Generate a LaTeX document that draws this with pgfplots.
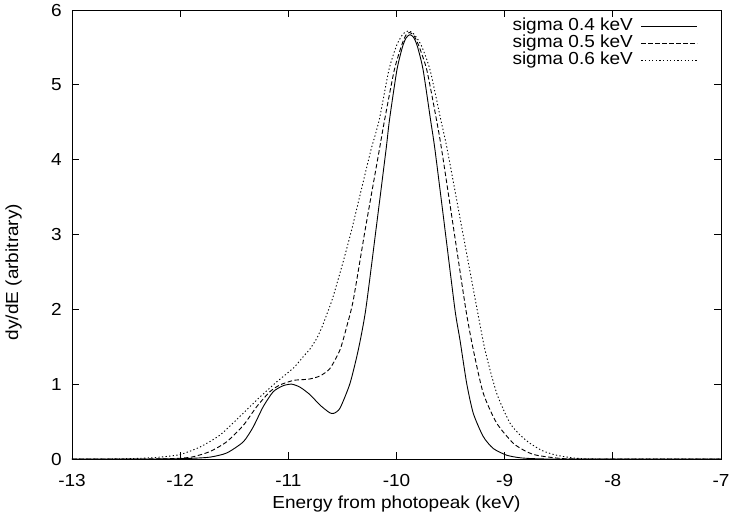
\documentclass[border=0pt]{standalone}
\usepackage{fontspec}
\setmainfont[FakeStretch=1.09]{Liberation Sans}
\usepackage{pgfplots}
\pgfplotsset{compat=1.18}
\newcommand\fs{\fontsize{17.5}{21}\selectfont}
\begin{document}
\begin{tikzpicture}
\begin{axis}[
  scale only axis, width=649bp, height=449bp,
  xmin=-13, xmax=-7, ymin=0, ymax=6,
  xtick={-13,-12,-11,-10,-9,-8,-7}, ytick={0,1,2,3,4,5,6},
  tick align=inside, tick pos=both, major tick length=7bp,
  axis line style={line width=0.8bp, black},
  tick style={line width=0.8bp, black},
  /pgf/number format/assume math mode=true,
  every tick label/.append style={font=\fs, inner sep=0pt},
  xticklabel style={anchor=north, yshift=-15bp},
  yticklabel style={anchor=east, xshift=-10bp},
  xlabel={Energy from photopeak (keV)},
  ylabel={dy/dE (arbitrary)},
  label style={font=\fs},
  xlabel style={at={(axis description cs:0.5,-0.1)}, anchor=center},
  ylabel style={at={(axis description cs:-0.09,0.4165)}, anchor=center},
  legend cell align=right,
  legend plot pos=right,
  legend image code/.code={\draw[#1] (0bp,0bp) -- (56bp,0bp);},
  legend style={draw=none, fill=none, font=\fs,
    at={(axis description cs:0.9646,0.982)}, anchor=north east,
    inner sep=0pt, row sep=0pt, column sep=8bp,
    nodes={inner sep=0pt, text height=12bp, text depth=5bp}},
]
\addplot[black, line width=0.9bp, smooth, tension=0.4] coordinates {
(-13,0) (-12.3,0) (-12.0,0.004) (-11.88,0.01) (-11.724,0.025) (-11.57,0.08)
(-11.416,0.23) (-11.324,0.43) (-11.232,0.70) (-11.139,0.90) (-11.047,0.98)
(-10.969,1.0) (-10.892,0.96) (-10.80,0.86) (-10.707,0.72) (-10.62,0.62)
(-10.58,0.61) (-10.522,0.68) (-10.43,1.01) (-10.353,1.46) (-10.285,1.99)
(-10.19,3.06) (-10.097,4.13) (-10.065,4.53) (-9.996,5.20) (-9.944,5.51)
(-9.91,5.63) (-9.875,5.67) (-9.84,5.63) (-9.806,5.51) (-9.754,5.20)
(-9.685,4.53) (-9.644,4.13) (-9.546,3.0) (-9.459,1.99) (-9.413,1.59)
(-9.351,1.01) (-9.29,0.61) (-9.198,0.30) (-9.105,0.14) (-8.98,0.05)
(-8.85,0.015) (-8.7,0.003) (-8.5,0) (-7,0)
};
\addlegendentry{sigma 0.4 keV}
\addplot[black, line width=0.9bp, dash pattern=on 4.5bp off 2.5bp, smooth, tension=0.4] coordinates {
(-13,0) (-12.4,0) (-12.15,0.003) (-12.0,0.01) (-11.879,0.03) (-11.724,0.10)
(-11.57,0.23) (-11.416,0.45) (-11.292,0.70) (-11.17,0.90) (-11.077,0.99)
(-10.954,1.05) (-10.87,1.06) (-10.80,1.07) (-10.707,1.11) (-10.615,1.21)
(-10.522,1.46) (-10.46,1.77) (-10.40,2.12) (-10.29,3.06) (-10.159,4.13)
(-10.11,4.53) (-10.02,5.20) (-9.952,5.53) (-9.915,5.66) (-9.88,5.70)
(-9.84,5.66) (-9.796,5.53) (-9.72,5.20) (-9.63,4.53) (-9.582,4.13)
(-9.47,3.06) (-9.358,1.99) (-9.290,1.46) (-9.198,0.88) (-9.074,0.48)
(-8.92,0.21) (-8.80,0.10) (-8.704,0.05) (-8.5,0.01) (-8.3,0) (-7,0)
};
\addlegendentry{sigma 0.5 keV}
\addplot[black, line width=0.9bp, dash pattern=on 1.3bp off 2.3bp, smooth, tension=0.4] coordinates {
(-13,0) (-12.7,0) (-12.5,0.004) (-12.35,0.01) (-12.186,0.025) (-12.0,0.06)
(-11.817,0.16) (-11.632,0.32) (-11.447,0.57) (-11.262,0.83) (-11.108,1.03)
(-10.95,1.22) (-10.861,1.37) (-10.80,1.47) (-10.738,1.61) (-10.69,1.76)
(-10.645,1.93) (-10.59,2.15) (-10.50,2.60) (-10.415,3.06) (-10.325,3.60)
(-10.236,4.13) (-10.16,4.53) (-10.07,5.20)
(-9.998,5.53) (-9.94,5.68) (-9.89,5.72) (-9.84,5.68) (-9.772,5.53)
(-9.69,5.20) (-9.59,4.53) (-9.530,4.13) (-9.392,3.06) (-9.26,2.04)
(-9.182,1.46) (-9.074,0.88) (-8.951,0.48) (-8.85,0.31) (-8.766,0.21)
(-8.65,0.11) (-8.519,0.05) (-8.34,0.01) (-8.1,0) (-7,0)
};
\addlegendentry{sigma 0.6 keV}
\end{axis}
\pgfresetboundingbox
\path (current axis.south west) ++(-72bp,-64bp) rectangle ++(730bp,523bp);
\end{tikzpicture}
\end{document}
